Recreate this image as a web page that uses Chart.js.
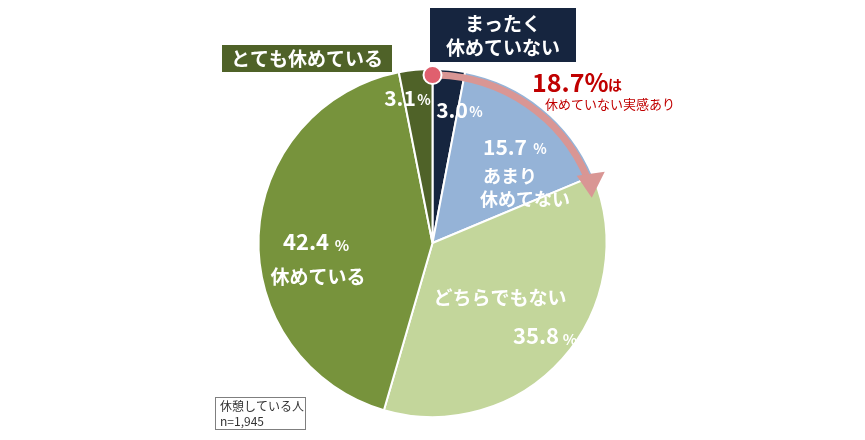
<!DOCTYPE html>
<html><head><meta charset="utf-8">
<script src="https://cdn.jsdelivr.net/npm/chart.js@4"></script>
<style>html,body{margin:0;background:#fff}#w{width:865px;height:440px}</style>
</head><body><div id="w"><canvas id="c"></canvas></div>
<script>
const categories = ['まったく休めていない','あまり休めてない','どちらでもない','休めている','とても休めている'];
const values = [3.0, 15.7, 35.8, 42.4, 3.1];
const colors = ['#16253f','#95b3d7','#c3d69b','#77933c','#4f6228'];
const F = '"Noto Sans CJK JP", sans-serif';

const deco = {
  id:'deco',
  afterDraw(chart){
    const ctx = chart.ctx;
    const m = chart.getDatasetMeta(0).data[0];
    const cx = m.x, cy = m.y, R = m.outerRadius;
    ctx.save();
    // arrow arc
    ctx.strokeStyle = '#d99694'; ctx.lineWidth = 7;
    ctx.beginPath(); ctx.arc(cx, cy, R-6, -Math.PI/2+0.03, -0.40); ctx.stroke();
    const a = -0.36, rr = R-6;
    const tx = cx + rr*Math.cos(a), ty = cy + rr*Math.sin(a);
    ctx.fillStyle = '#d99694';
    ctx.beginPath(); ctx.moveTo(tx+2, ty+14); ctx.lineTo(tx-13, ty-8); ctx.lineTo(tx+15, ty-12); ctx.closePath(); ctx.fill();
    ctx.fillStyle = '#e0606e'; ctx.strokeStyle = '#fff'; ctx.lineWidth = 2;
    ctx.beginPath(); ctx.arc(cx, cy-R+6, 9, 0, Math.PI*2); ctx.fill(); ctx.stroke();
    // boxes
    ctx.fillStyle = '#16253f'; ctx.fillRect(430, 8, 146, 54);
    ctx.fillStyle = '#4f6228'; ctx.fillRect(222, 45, 170, 27);
    ctx.fillStyle = '#fff'; ctx.textAlign = 'center'; ctx.textBaseline = 'middle';
    ctx.font = 'bold 19px '+F;
    ctx.fillText('まったく', 503, 24); ctx.fillText('休めていない', 503, 48);
    ctx.fillText('とても休めている', 307, 59);
    // slice labels
    const t = (s, x, y, sz, col) => { ctx.font = 'bold '+sz+'px '+F; ctx.fillStyle = col||'#fff'; ctx.fillText(s, x, y); };
    t('3.1', 400, 98, 21); t('%', 424, 100, 14);
    t('3.0', 452, 110, 21); t('%', 476, 112, 14);
    t('15.7', 505, 147, 21); t('%', 540, 149, 14);
    t('あまり', 510, 176, 18); t('休めてない', 525, 199, 18);
    t('42.4', 306, 242, 22); t('%', 342, 245, 15);
    t('休めている', 318, 277, 19);
    t('どちらでもない', 500, 298, 19);
    t('35.8', 536, 336, 22); t('%', 570, 339, 15);
    // red annotation
    ctx.fillStyle = '#c00000'; ctx.textAlign = 'left';
    ctx.font = 'bold 25px '+F; ctx.fillText('18.7%', 532, 82);
    ctx.font = 'bold 14px '+F; ctx.fillText('は', 608, 85);
    ctx.font = '13px '+F; ctx.fillText('休めていない実感あり', 545, 104);
    // n box
    ctx.fillStyle = '#fff'; ctx.strokeStyle = '#7f7f7f'; ctx.lineWidth = 1;
    ctx.fillRect(215.5, 397.5, 90, 32); ctx.strokeRect(215.5, 397.5, 90, 32);
    ctx.fillStyle = '#333'; ctx.font = '12px '+F;
    ctx.fillText('休憩している人', 220, 406); ctx.fillText('n=1,945', 220, 421);
    ctx.restore();
  }
};

new Chart(document.getElementById('c'), {
  type:'pie',
  data:{labels:categories, datasets:[{data:values, backgroundColor:colors, borderColor:'#fff', borderWidth:2}]},
  options:{responsive:true, maintainAspectRatio:false, animation:false,
    layout:{padding:{top:68, bottom:22, left:0, right:0}},
    plugins:{legend:{display:false}, tooltip:{enabled:false}}},
  plugins:[deco]
});
</script></body></html>
